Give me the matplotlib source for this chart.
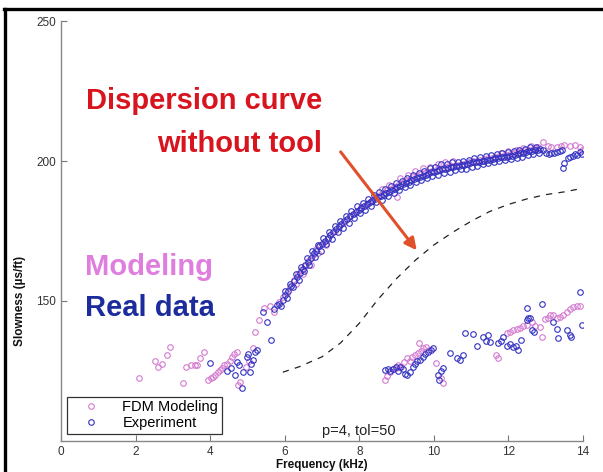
import matplotlib
matplotlib.use("Agg")
import matplotlib.pyplot as plt
from matplotlib.lines import Line2D

plt.rcParams['font.family'] = ['Liberation Sans', 'DejaVu Sans']

# ---------------- data ----------------
fdm_x = [2.10, 2.52, 2.61, 2.70, 2.83, 2.92, 3.26, 3.35, 3.48, 3.59, 3.66, 3.73, 3.84,
         3.95, 4.02, 4.08, 4.13, 4.20, 4.26, 4.32, 4.38, 4.44, 4.52, 4.58, 4.65, 4.71,
         4.75, 4.80, 4.95, 5.05, 5.15, 5.20,
         5.30, 5.45, 5.60, 5.72, 5.85, 5.95, 6.05, 6.15, 6.25, 6.35, 6.45, 6.55, 6.65,
         6.75, 6.85, 6.95, 7.05, 7.15, 7.25, 7.35, 7.45, 7.55, 7.65, 7.75, 7.85, 7.95,
         8.05, 8.15, 8.25, 8.35, 8.45, 8.55, 8.65, 8.75, 8.85, 8.95, 9.00, 9.05, 9.15,
         9.25, 9.35, 9.45, 9.55, 9.65, 9.75, 9.85, 9.95, 10.05, 10.15, 10.25, 10.35,
         10.45, 10.55, 10.65, 10.75, 10.85, 10.95, 11.05, 11.15, 11.25, 11.35, 11.45,
         11.55, 11.65, 11.75, 11.85, 11.95, 12.05, 12.15, 12.25, 12.35, 12.45, 12.55,
         12.65, 12.72, 12.80, 12.93, 13.05, 13.15, 13.29, 13.40, 13.50, 13.65, 13.78,
         13.92, 13.98,
         6.30, 6.50, 6.70, 6.90, 7.10, 8.60, 8.80, 9.10, 9.30, 9.50, 9.70, 9.90, 10.10,
         10.30, 10.50, 11.80, 12.00, 12.20, 12.40, 12.60,
         8.69, 8.75, 8.82, 8.90, 8.98, 9.05, 9.12, 9.20, 9.28, 9.35, 9.42, 9.50, 9.57,
         9.60, 9.65, 9.72, 9.80, 9.88, 10.06, 10.18, 10.25, 11.68, 11.72, 11.95, 12.05,
         12.13, 12.22, 12.30, 12.40, 12.50, 12.62, 12.72, 12.85, 12.89, 12.98, 13.05,
         13.12, 13.20, 13.30, 13.38, 13.47, 13.56, 13.65, 13.74, 13.83, 13.92]
fdm_y = [122.3, 128.6, 126.4, 127.6, 130.6, 133.6, 120.7, 126.3, 127.0, 127.0, 127.2, 129.5, 131.7,
         121.6, 122.5, 122.8, 123.4, 124.5, 125.2, 126.0, 127.0, 127.6, 128.5, 130.0, 131.0, 131.7,
         119.8, 121.0, 126.5, 128.5, 133.0, 139.0,
         143.0, 147.5, 148.0, 146.0, 149.5, 151.5, 153.0, 155.0, 157.5, 159.5, 161.0, 162.5, 164.5,
         166.5, 168.5, 170.0, 171.0, 172.0, 174.0, 175.0, 176.5, 178.0, 179.0, 180.5, 181.2, 182.3,
         183.5, 184.0, 185.0, 186.2, 187.0, 187.8, 188.5, 189.5, 190.0, 190.8, 187.2, 191.5, 192.2,
         193.0, 193.5, 194.2, 194.8, 195.3, 195.8, 196.2, 196.6, 196.9, 197.2, 197.6, 197.9,
         198.2, 198.4, 198.7, 199.0, 199.2, 199.6, 199.9, 200.2, 200.5, 200.7, 201.0,
         201.2, 201.5, 201.8, 202.0, 202.3, 202.6, 202.9, 203.2, 203.5, 203.8, 204.1,
         204.3, 204.6, 205.0, 206.9, 205.5, 205.0, 205.1, 205.3, 205.6, 205.5, 205.8,
         205.1, 204.0,
         156.0, 159.5, 163.0, 167.0, 170.0, 190.0, 191.5, 194.0, 195.0, 196.5, 197.5, 198.0, 198.8,
         199.5, 200.0, 203.0, 203.5, 204.0, 204.8, 205.5,
         121.6, 123.0, 124.5, 125.5, 126.0, 127.0, 126.5, 128.0, 129.5, 128.5, 130.0, 130.5, 131.5,
         135.0, 132.0, 133.0, 133.5, 132.5, 127.8, 122.5, 120.5, 130.6, 129.5, 138.5, 139.0,
         139.5, 140.0, 140.2, 141.0, 141.5, 142.5, 141.0, 140.7, 137.1, 143.5, 143.8,
         145.0, 144.9, 144.0, 144.3, 145.0, 146.1, 147.0, 147.9, 148.3, 148.1]

exp_x = [4.00, 4.44, 4.55, 4.67, 4.71, 4.78, 4.85, 4.89, 4.98, 5.02, 5.07, 5.10, 5.15,
         5.20, 5.25,
         5.42, 5.52, 5.62, 5.70, 5.78, 5.86, 5.95, 6.02, 6.10, 6.18, 6.25, 6.33, 6.40,
         6.48, 6.55, 6.62, 6.70, 6.78, 6.85, 6.92, 7.00, 7.08, 7.15, 7.22, 7.30, 7.38,
         7.45, 7.52, 7.60, 7.68, 7.75, 7.82, 7.90, 7.98, 8.05, 8.12, 8.20, 8.28, 8.35,
         8.42, 8.50, 8.58, 8.65, 8.72, 8.80, 8.88, 8.95, 9.02, 9.10, 9.18, 9.25, 9.32,
         9.40, 9.48, 9.55, 9.62, 9.70, 9.78, 9.85, 9.92, 10.00, 10.08, 10.15, 10.22,
         10.30, 10.38, 10.45, 10.52, 10.60, 10.68, 10.75, 10.82, 10.90, 10.98, 11.05,
         11.12, 11.20, 11.28, 11.35, 11.42, 11.50, 11.58, 11.65, 11.72, 11.80, 11.88,
         11.95, 12.02, 12.10, 12.18, 12.25, 12.32, 12.40, 12.48, 12.55, 12.62, 12.70,
         12.78, 12.85, 12.92, 13.00, 13.08, 13.15, 13.22, 13.30, 13.38, 13.45, 13.47,
         13.50, 13.60, 13.65, 13.72, 13.78, 13.85, 13.92, 13.97,
         5.90, 6.00, 6.06, 6.14, 6.22, 6.30, 6.37, 6.44, 6.52, 6.60, 6.66, 6.74, 6.82,
         6.89, 6.96, 7.04, 7.12, 7.19, 7.26, 7.34, 7.42, 7.49, 7.56, 7.64, 7.72, 7.79,
         7.86, 7.94, 8.02, 8.09, 8.16, 8.24, 8.32, 8.39, 8.46, 8.54, 8.62, 8.69, 8.76,
         8.84, 8.92, 8.99, 9.06, 9.14, 9.22, 9.29, 9.36, 9.44, 9.52, 9.59, 9.66, 9.74,
         9.82, 9.89, 9.96, 10.04, 10.12, 10.19, 10.26, 10.34, 10.42, 10.49, 10.56, 10.64,
         10.72, 10.79, 10.86, 10.94, 11.02, 11.09, 11.16, 11.24, 11.32, 11.39, 11.46,
         11.54, 11.62, 11.69, 11.76, 11.84, 11.92, 11.99, 12.06, 12.14, 12.22, 12.29,
         12.36, 12.44, 12.52, 12.59, 12.66, 12.74, 12.82,
         8.69, 8.76, 8.82, 8.90, 8.98, 9.04, 9.10, 9.16, 9.22, 9.28, 9.36, 9.43, 9.50,
         9.56, 9.63, 9.70, 9.76, 9.84, 9.92, 9.98, 10.10, 10.15, 10.20, 10.25, 10.43,
         10.62, 10.70, 10.77, 10.83, 11.04, 11.15, 11.32, 11.40, 11.45, 11.50, 11.73,
         11.80, 11.86, 11.95, 12.05, 12.13, 12.20, 12.26, 12.35, 12.49, 12.52, 12.58,
         12.49, 12.62, 12.68, 12.89, 13.20, 13.29, 13.33, 13.56, 13.65, 13.69, 13.92, 13.97]
exp_y = [127.7, 124.9, 126.0, 123.4, 128.0, 127.0, 118.8, 124.7, 130.0, 131.0, 124.7, 127.6, 129.0,
         131.7, 132.5,
         146.0, 142.5, 136.0, 147.0, 148.5, 149.0, 150.5, 152.0, 153.5, 155.5, 157.0, 158.5, 160.0,
         161.5, 163.0, 164.0, 165.5, 167.0, 168.0, 169.5, 170.5, 171.5, 172.5, 173.5, 174.8, 175.8,
         176.8, 177.5, 178.5, 179.3, 180.2, 181.0, 181.8, 182.5, 183.2, 183.8, 184.5, 185.2, 185.8,
         186.5, 187.0, 187.5, 188.0, 188.6, 189.0, 189.6, 190.2, 190.8, 191.2, 191.8, 192.3, 192.6,
         193.2, 193.5, 194.0, 194.4, 194.8, 195.2, 195.5, 196.0, 196.2, 196.5, 196.8, 197.0,
         197.3, 197.5, 197.8, 198.0, 198.2, 198.4, 198.5, 198.7, 198.8, 199.2, 199.5,
         199.7, 199.8, 200.0, 200.2, 200.4, 200.5, 200.8, 201.0, 201.2, 201.3, 201.5,
         201.6, 201.8, 202.0, 202.2, 202.6, 202.8, 203.0, 203.3, 203.5, 203.6, 203.8,
         204.0, 204.2, 203.8, 202.8, 202.5, 202.8, 203.0, 203.4, 203.6, 203.8, 197.5,
         199.3, 201.0, 201.5, 202.0, 202.5, 202.3, 203.2, 202.5,
         148.0, 153.5, 151.0, 156.0, 154.8, 159.5, 157.5, 162.2, 160.8, 165.2, 163.0, 167.8, 165.8,
         170.0, 168.0, 172.5, 170.2, 174.5, 172.3, 176.8, 174.5, 178.5, 176.2, 180.5, 178.0, 182.3,
         179.8, 183.8, 181.5, 185.0, 182.5, 186.3, 184.0, 187.8, 185.2, 188.8, 186.2, 190.0, 187.5,
         191.0, 188.6, 192.0, 189.8, 193.0, 190.8, 194.0, 191.6, 195.0, 192.6, 195.8, 193.2, 196.5,
         194.0, 197.5, 194.8, 198.0, 195.2, 198.8, 195.8, 199.0, 196.2, 199.5, 196.8, 199.8,
         197.0, 200.2, 197.3, 200.5, 198.0, 201.0, 198.4, 201.5, 198.8, 201.8, 199.2,
         202.2, 199.6, 202.5, 200.0, 202.8, 200.3, 203.2, 200.6, 203.5, 201.2, 204.0,
         201.6, 204.5, 202.2, 205.0, 202.6, 205.2, 203.0,
         125.2, 125.5, 125.0, 125.8, 126.2, 125.0, 126.5, 125.5, 124.0, 123.5, 124.7, 126.5, 127.5,
         128.5, 128.8, 130.0, 131.0, 131.8, 132.5, 133.1, 123.4, 121.8, 125.0, 126.0, 131.3,
         129.5, 128.8, 130.6, 138.5, 138.0, 133.8, 137.0, 135.5, 137.8, 135.3, 134.8,
         135.5, 137.1, 134.0, 134.5, 133.5, 134.0, 132.4, 135.9, 143.0, 143.8, 143.8,
         147.3, 139.5, 139.0, 148.9, 142.5, 139.9, 136.7, 139.5, 137.8, 137.1, 153.3, 141.3]

# dispersion curve without tool (dashed)
notool_x = [5.95, 6.4, 7.0, 7.5, 8.0, 8.5, 9.0, 9.5, 10.0, 10.5, 11.0, 11.5, 12.0, 12.5, 13.0, 13.5, 14.0]
notool_y = [124.5, 126.5, 130.0, 135.0, 142.0, 150.5, 158.0, 164.5, 170.0, 174.5, 178.5, 182.0,
            184.5, 186.5, 188.0, 189.0, 190.3]

x_ticks = [0, 2, 4, 6, 8, 10, 12, 14]
y_ticks = [150, 200, 250]

# ---------------- figure ----------------
fig = plt.figure(figsize=(6.03, 4.72), dpi=100)
ax = fig.add_axes([61/603, 1 - 440.7/472, (583 - 61)/603, (440.7 - 21.3)/472])

pink = '#d47ad0'
blue = '#3333c0'

ax.plot(fdm_x, fdm_y, 'o', ls='none', ms=4, mfc='none', mec=pink, mew=0.8, label='FDM Modeling')
ax.plot(exp_x, exp_y, 'o', ls='none', ms=4, mfc='none', mec=blue, mew=0.8, label='Experiment')
ax.plot(notool_x, notool_y, ls=(0, (5, 5)), color='#222222', lw=0.9)

ax.set_xlim(0, 14)
ax.set_ylim(100, 250)
ax.set_xticks(x_ticks)
ax.set_yticks(y_ticks)
ax.tick_params(direction='in', length=4, width=0.8, colors='#777777', labelcolor='#333333',
               labelsize=8.5)
for s in ['top', 'right']:
    ax.spines[s].set_visible(False)
for s in ['left', 'bottom']:
    ax.spines[s].set_color('#888888')
    ax.spines[s].set_linewidth(1.0)

leg = ax.legend(loc='lower left', bbox_to_anchor=(0.0115, 0.016), fontsize=10.5, frameon=True,
                fancybox=False, edgecolor='black', borderpad=0.25, handletextpad=0.75,
                labelspacing=0.15, handlelength=2.8, borderaxespad=0)
leg.get_frame().set_linewidth(0.9)

ax.text(7.0, 101.9, 'p=4, tol=50', fontsize=10.5, color='#222222', ha='left', va='baseline')

# annotations
red = '#d8141e'
ax.text(7.0, 218.6, 'Dispersion curve', fontsize=21, fontweight='bold', color=red,
        ha='right', va='baseline')
ax.text(7.0, 203.4, 'without tool', fontsize=21, fontweight='bold', color=red,
        ha='right', va='baseline')
ax.text(0.64, 159.2, 'Modeling', fontsize=21, fontweight='bold', color='#e07ee0',
        ha='left', va='baseline')
ax.text(0.64, 144.6, 'Real data', fontsize=21, fontweight='bold', color='#1c2c9c',
        ha='left', va='baseline')
ax.annotate('', xy=(9.54, 168.1), xytext=(7.5, 203.3),
            arrowprops=dict(arrowstyle='-|>,head_length=0.7,head_width=0.35', color='#e0502a',
                            lw=2.2, shrinkA=0, shrinkB=0))

fig.text(322/603, 1 - 465/472, 'Frequency (kHz)', fontsize=8.5, fontweight='bold',
         ha='center', va='center', color='#111111')
fig.text(20/603, 1 - 301/472, 'Slowness (\u00b5s/ft)', fontsize=8.5, fontweight='bold',
         ha='center', va='center', rotation=90, color='#111111')

# frame lines (top and left)
fig.add_artist(Line2D([4/603, 1.0], [1 - 8.5/472, 1 - 8.5/472], color='black', lw=2.4,
                      transform=fig.transFigure))
fig.add_artist(Line2D([4.5/603, 4.5/603], [0.0, 1 - 8.5/472], color='black', lw=2.4,
                      transform=fig.transFigure))

fig.savefig('out.png', dpi=100)
